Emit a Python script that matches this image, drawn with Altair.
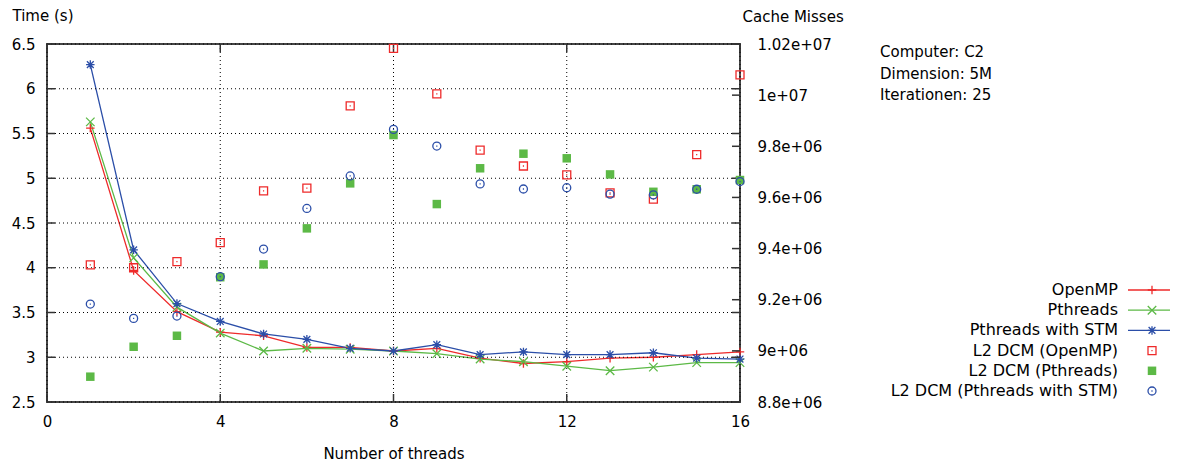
import altair as alt
import pandas as pd

# ---------------- data ----------------
threads = list(range(1, 17))
time_openmp = [5.56, 3.97, 3.51, 3.28, 3.24, 3.11, 3.11, 3.07, 3.10, 2.99, 2.93, 2.95, 2.99, 3.00, 3.03, 3.06]
time_pthreads = [5.63, 4.11, 3.56, 3.27, 3.07, 3.10, 3.09, 3.07, 3.04, 2.98, 2.95, 2.90, 2.85, 2.89, 2.94, 2.94]
time_stm = [6.27, 4.20, 3.60, 3.40, 3.26, 3.20, 3.10, 3.07, 3.14, 3.03, 3.06, 3.03, 3.03, 3.05, 2.99, 2.98]

dcm_openmp = [9.336e6, 9.325e6, 9.349e6, 9.423e6, 9.626e6, 9.636e6, 9.958e6, 10.183e6,
              10.005e6, 9.785e6, 9.723e6, 9.688e6, 9.618e6, 9.593e6, 9.767e6, 10.079e6]
dcm_pthreads = [8.899e6, 9.016e6, 9.059e6, 9.288e6, 9.338e6, 9.479e6, 9.655e6, 9.844e6,
                9.574e6, 9.714e6, 9.771e6, 9.753e6, 9.690e6, 9.622e6, 9.632e6, 9.668e6]
dcm_stm = [9.183e6, 9.127e6, 9.136e6, 9.290e6, 9.398e6, 9.557e6, 9.684e6, 9.866e6,
           9.801e6, 9.653e6, 9.633e6, 9.638e6, 9.613e6, 9.610e6, 9.632e6, 9.662e6]

series_names = ["OpenMP", "Pthreads", "Pthreads with STM"]
legend_labels = ["OpenMP", "Pthreads", "Pthreads with STM",
                 "L2 DCM (OpenMP)", "L2 DCM (Pthreads)", "L2 DCM (Pthreads with STM)"]
info_lines = ["Computer: C2", "Dimension: 5M", "Iterationen: 25"]

x_ticks = [0, 4, 8, 12, 16]
left_ticks = [2.5, 3.0, 3.5, 4.0, 4.5, 5.0, 5.5, 6.0, 6.5]
right_ticks = [8.8e6, 9.0e6, 9.2e6, 9.4e6, 9.6e6, 9.8e6, 1.0e7, 1.02e7]

# ---------------- styling ----------------
FONT = "DejaVu Sans"
FS = 15
LFS = 16
RED, GREEN, BLUE = "#ee2a2a", "#5cb946", "#2b4ea8"
W, H = 693, 358

PLUS = "M-1,0L1,0M0,-1L0,1"
CROSS = "M-1,-1L1,1M-1,1L1,-1"
STAR = "M-1,0L1,0M0,-1L0,1M-0.8,-0.8L0.8,0.8M-0.8,0.8L0.8,-0.8"
OSQ = "M-1,-1L1,-1L1,1L-1,1ZM-0.15,0L0.15,0"
OCIRC = "M1,0A1,1,0,1,1,-1,0A1,1,0,1,1,1,0ZM-0.15,0L0.15,0"

time_df = pd.DataFrame({
    "threads": threads * 3,
    "time": time_openmp + time_pthreads + time_stm,
    "series": [series_names[0]] * 16 + [series_names[1]] * 16 + [series_names[2]] * 16,
})
dcm_o = pd.DataFrame({"threads": threads, "misses": dcm_openmp})
dcm_p = pd.DataFrame({"threads": threads, "misses": dcm_pthreads})
dcm_s = pd.DataFrame({"threads": threads, "misses": dcm_stm})

xs = alt.Scale(domain=[0, 16], nice=False, zero=False)
ys_left = alt.Scale(domain=[2.5, 6.5], nice=False, zero=False)
ys_right = alt.Scale(domain=[8.8e6, 1.02e7], nice=False, zero=False)

color_scale = alt.Scale(domain=series_names, range=[RED, GREEN, BLUE])
shape_scale = alt.Scale(domain=series_names, range=[PLUS, CROSS, STAR])

x_axis = alt.Axis(values=x_ticks, format="d", grid=False, labelPadding=12,
                  labelFlush=False, ticks=False, domain=False,
                  title="Number of threads", titleY=56, titleBaseline="alphabetic")
left_axis = alt.Axis(values=left_ticks, format="~g", grid=False, labelPadding=12,
                     labelFlush=False, ticks=False, domain=False, orient="left",
                     title="Time (s)", titleAngle=0, titleAlign="left",
                     titleBaseline="middle", titleX=-35, titleY=-29)
right_axis = alt.Axis(orient="right", values=right_ticks, grid=False,
                      labelFlush=False, ticks=False, domain=False,
                      labelExpr="replace(format(datum.value, '.3~e'), 'e+', 'e+0')",
                      labelPadding=17, title="Cache Misses", titleAngle=0,
                      titleAlign="left", titleBaseline="middle", titleX=2, titleY=-28)

TICK = "#333333"
lt_df = pd.DataFrame({"v": left_ticks})
xt_df = pd.DataFrame({"v": x_ticks})
rt_df = pd.DataFrame({"v": right_ticks})

# ---------------- grid (dotted, gnuplot style) ----------------
grid_v = alt.Chart(xt_df).mark_rule(color="#000000", strokeWidth=1, strokeDash=[1, 3]).encode(
    x=alt.X("v:Q", scale=xs, axis=None), y=alt.value(0), y2=alt.value(H))
grid_h = alt.Chart(lt_df).mark_rule(color="#000000", strokeWidth=1, strokeDash=[1, 3]).encode(
    y=alt.Y("v:Q", scale=ys_left, axis=None), x=alt.value(0), x2=alt.value(W))

# ---------------- time layers ----------------
lines = alt.Chart(time_df).mark_line(strokeWidth=1.3).encode(
    x=alt.X("threads:Q", scale=xs, axis=x_axis),
    y=alt.Y("time:Q", scale=ys_left, axis=left_axis),
    color=alt.Color("series:N", scale=color_scale, legend=None),
    detail="series:N",
)
line_pts = alt.Chart(time_df).mark_point(filled=False, size=72, strokeWidth=1.3, opacity=1).encode(
    x=alt.X("threads:Q", scale=xs, axis=None),
    y=alt.Y("time:Q", scale=ys_left, axis=None),
    color=alt.Color("series:N", scale=color_scale, legend=None),
    shape=alt.Shape("series:N", scale=shape_scale, legend=None),
)

left_ticks_l = alt.Chart(lt_df).mark_rule(color=TICK, strokeWidth=1.5).encode(
    y=alt.Y("v:Q", scale=ys_left, axis=None), x=alt.value(0), x2=alt.value(8))
left_ticks_r = alt.Chart(lt_df).mark_rule(color=TICK, strokeWidth=1.5).encode(
    y=alt.Y("v:Q", scale=ys_left, axis=None), x=alt.value(W - 8), x2=alt.value(W))
x_ticks_b = alt.Chart(xt_df).mark_rule(color=TICK, strokeWidth=1.5).encode(
    x=alt.X("v:Q", scale=xs, axis=None), y=alt.value(H - 8), y2=alt.value(H))
x_ticks_t = alt.Chart(xt_df).mark_rule(color=TICK, strokeWidth=1.5).encode(
    x=alt.X("v:Q", scale=xs, axis=None), y=alt.value(0), y2=alt.value(8))
right_ticks_r = alt.Chart(rt_df).mark_rule(color=TICK, strokeWidth=1.5).encode(
    y=alt.Y("v:Q", scale=ys_right, axis=None), x=alt.value(W - 8), x2=alt.value(W))

# ---------------- cache-miss layers ----------------
pts_o = alt.Chart(dcm_o).mark_point(shape=OSQ, color=RED, filled=False, size=64,
                                   strokeWidth=1.3, opacity=1).encode(
    x=alt.X("threads:Q", scale=xs, axis=None),
    y=alt.Y("misses:Q", scale=ys_right, axis=right_axis))
pts_p = alt.Chart(dcm_p).mark_point(shape="square", color=GREEN, filled=True, size=72,
                                   opacity=1).encode(
    x=alt.X("threads:Q", scale=xs, axis=None),
    y=alt.Y("misses:Q", scale=ys_right, axis=None))
pts_s = alt.Chart(dcm_s).mark_point(shape=OCIRC, color=BLUE, filled=False, size=64,
                                   strokeWidth=1.3, opacity=1).encode(
    x=alt.X("threads:Q", scale=xs, axis=None),
    y=alt.Y("misses:Q", scale=ys_right, axis=None))

# ---------------- legend & info text ----------------
LEG_TX = 1071
LEG_X1, LEG_X2, LEG_XM = 1081, 1128, 1105
LEG_Y0, LEG_DY = 246, 20.2
deco = []
for i, lab in enumerate(legend_labels):
    yy = LEG_Y0 + i * LEG_DY
    deco.append(
        alt.Chart(pd.DataFrame({"label": [lab]})).mark_text(
            align="right", baseline="middle", font=FONT, fontSize=LFS, color="black"
        ).encode(x=alt.value(LEG_TX), y=alt.value(yy), text="label:N")
    )
line_syms = [(RED, PLUS), (GREEN, CROSS), (BLUE, STAR)]
for i, (col, shp) in enumerate(line_syms):
    yy = LEG_Y0 + i * LEG_DY
    one = pd.DataFrame({"k": [0]})
    deco.append(alt.Chart(one).mark_rule(color=col, strokeWidth=1.3).encode(
        x=alt.value(LEG_X1), x2=alt.value(LEG_X2), y=alt.value(yy)))
    deco.append(alt.Chart(one).mark_point(shape=shp, color=col, filled=False, size=72,
                                         strokeWidth=1.3, opacity=1).encode(
        x=alt.value(LEG_XM), y=alt.value(yy)))
one = pd.DataFrame({"k": [0]})
deco.append(alt.Chart(one).mark_point(shape=OSQ, color=RED, filled=False, size=64,
                                     strokeWidth=1.3, opacity=1).encode(
    x=alt.value(LEG_XM), y=alt.value(LEG_Y0 + 3 * LEG_DY)))
deco.append(alt.Chart(one).mark_point(shape="square", color=GREEN, filled=True, size=72,
                                     opacity=1).encode(
    x=alt.value(LEG_XM), y=alt.value(LEG_Y0 + 4 * LEG_DY)))
deco.append(alt.Chart(one).mark_point(shape=OCIRC, color=BLUE, filled=False, size=64,
                                     strokeWidth=1.3, opacity=1).encode(
    x=alt.value(LEG_XM), y=alt.value(LEG_Y0 + 5 * LEG_DY)))
for i, txt in enumerate(info_lines):
    deco.append(
        alt.Chart(pd.DataFrame({"t": [txt]})).mark_text(
            align="left", baseline="middle", font=FONT, fontSize=FS, color="black"
        ).encode(x=alt.value(833), y=alt.value(8 + i * 21.6), text="t:N")
    )

chart = alt.layer(
    lines, grid_v, grid_h, line_pts, left_ticks_l, left_ticks_r, x_ticks_b, x_ticks_t,
    pts_o, pts_p, pts_s, right_ticks_r, *deco
).resolve_scale(y="independent", x="independent").properties(
    width=W, height=H,
    autosize=alt.AutoSizeParams(type="none"),
    padding={"left": 39, "top": 36, "right": 430, "bottom": 59},
    background="white",
).configure_view(stroke="#444444", strokeWidth=2).configure_axis(
    labelFont=FONT, labelFontSize=FS, labelColor="black",
    titleFont=FONT, titleFontSize=FS, titleColor="black", titleFontWeight="normal",
)

chart.save("out.html", embed_options={"renderer": "svg", "actions": False})
